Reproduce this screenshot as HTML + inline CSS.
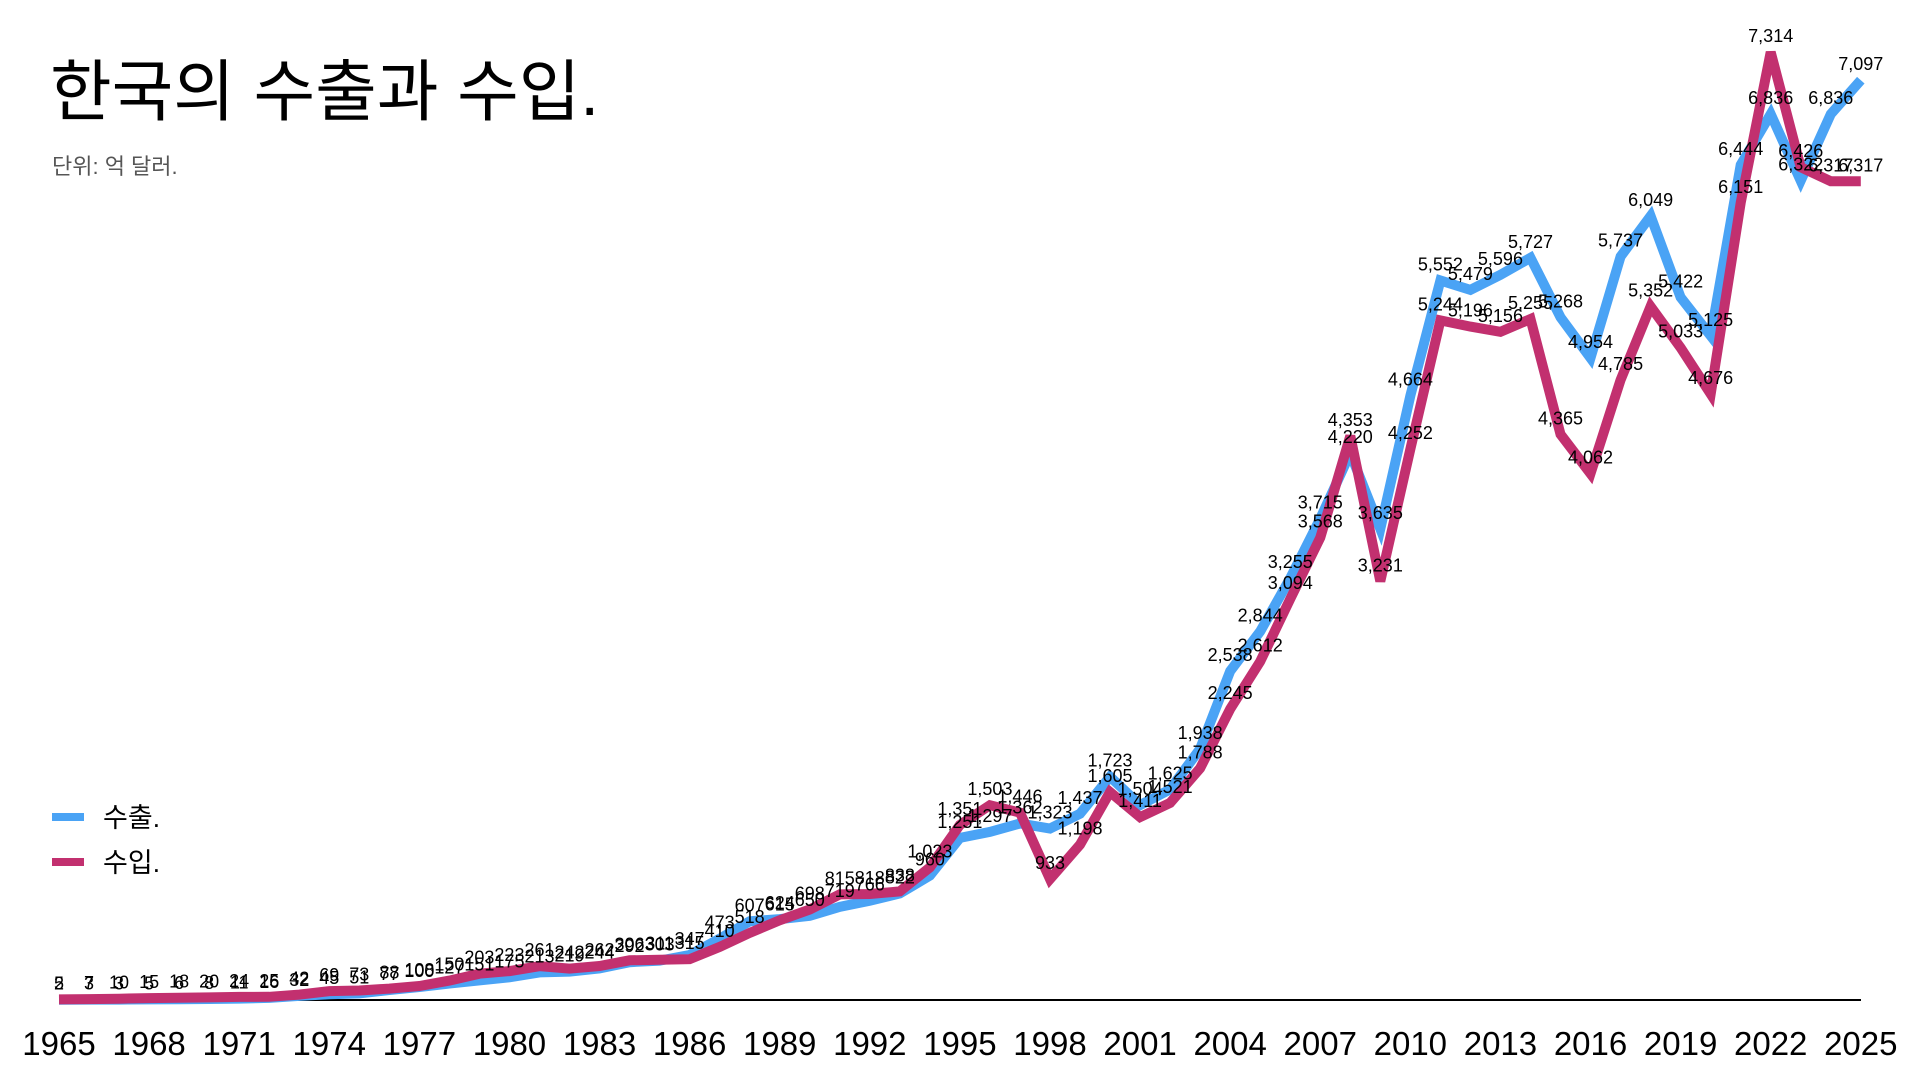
<!DOCTYPE html>
<html><head><meta charset="utf-8"><style>
html,body{margin:0;padding:0;background:#fff;}
svg{display:block;}
</style></head><body>
<svg id="c" width="1920" height="1080" xmlns="http://www.w3.org/2000/svg" font-family="'Liberation Sans','Noto Sans CJK KR',sans-serif">
<text x="50" y="115" font-size="67" fill="#000">한국의 수출과 수입.</text>
<text x="52" y="174" font-size="22" fill="#555">단위: 억 달러.</text>
<line x1="59" y1="1000" x2="1861" y2="1000" stroke="#000" stroke-width="2"/>
<g id="g"></g>
<line x1="52" y1="817" x2="84" y2="817" stroke="#4aa3f5" stroke-width="8"/>
<text x="103" y="827" font-size="27">수출.</text>
<line x1="52" y1="862" x2="84" y2="862" stroke="#c2306f" stroke-width="8"/>
<text x="103" y="872" font-size="27">수입.</text>
</svg>
<script>
var ex=[2,3,3,5,6,8,11,16,32,45,51,77,100,127,151,175,213,219,244,292,303,347,473,607,624,650,719,766,822,960,1251,1297,1362,1323,1437,1723,1504,1625,1938,2538,2844,3255,3715,4220,3635,4664,5552,5479,5596,5727,5268,4954,5737,6049,5422,5125,6444,6836,6322,6836,7097];
var im=[5,7,10,15,18,20,24,25,42,69,73,88,108,150,203,223,261,242,262,306,311,315,410,518,615,698,815,818,838,1023,1351,1503,1446,933,1198,1605,1411,1521,1788,2245,2612,3094,3568,4353,3231,4252,5244,5196,5156,5255,4365,4062,4785,5352,5033,4676,6151,7314,6426,6317,6317];
var g=document.getElementById('g'),NS="http://www.w3.org/2000/svg";
function X(i){return 59+i*30.03;}function Y(v){return 1000-v*0.1296;}
function line(d,c){var p=d.map(function(v,i){return X(i).toFixed(1)+","+Y(v).toFixed(1)}).join(" ");
var e=document.createElementNS(NS,"polyline");e.setAttribute("points",p);e.setAttribute("fill","none");e.setAttribute("stroke",c);e.setAttribute("stroke-width","10");e.setAttribute("stroke-linejoin","miter");g.appendChild(e);}
line(ex,"#4aa3f5");line(im,"#c2306f");
function lab(d){d.forEach(function(v,i){var t=document.createElementNS(NS,"text");t.setAttribute("x",X(i));t.setAttribute("y",Y(v)-10);t.setAttribute("font-size","18");t.setAttribute("text-anchor","middle");t.textContent=v.toLocaleString("en-US");g.appendChild(t);});}
lab(ex);lab(im);
for(var y=1965;y<=2025;y+=3){var t=document.createElementNS(NS,"text");t.setAttribute("x",X(y-1965));t.setAttribute("y",1055);t.setAttribute("font-size","33");t.setAttribute("text-anchor","middle");t.textContent=y;g.appendChild(t);}
</script>
</body></html>
